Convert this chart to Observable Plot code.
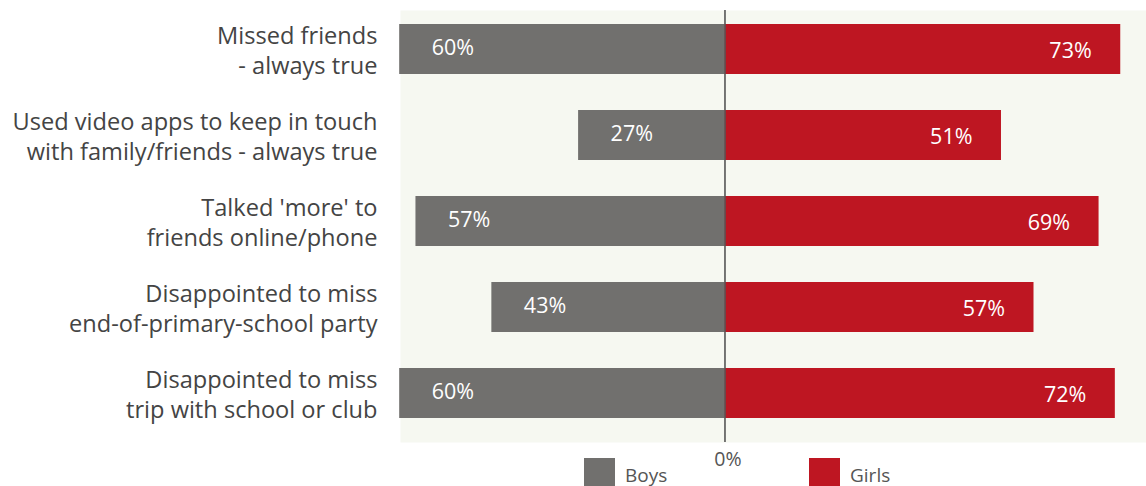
<!DOCTYPE html>
<html>
<head>
<meta charset="utf-8">
<script src="https://cdn.jsdelivr.net/npm/d3@7"></script>
<script src="https://cdn.jsdelivr.net/npm/@observablehq/plot@0.6"></script>
<style>
  html, body { margin: 0; padding: 0; background: #ffffff; }
  #wrap { position: relative; width: 1146px; height: 486px; font-family: "Open Sans", sans-serif; }
  #legend { position: absolute; top: 458px; left: 0; width: 1146px; height: 28px; }
  .item { position: absolute; top: 0; display: flex; align-items: center; height: 28px; }
  .sw { width: 31px; height: 28px; margin-right: 10px; }
  .lab { font-size: 19px; color: #555555; line-height: 28px; position: relative; top: 3px; }
</style>
</head>
<body>
<div id="wrap"></div>
<script>
const categories = [
  "Missed friends\n- always true",
  "Used video apps to keep in touch\nwith family/friends - always true",
  "Talked 'more' to\nfriends online/phone",
  "Disappointed to miss\nend-of-primary-school party",
  "Disappointed to miss\ntrip with school or club"
];
const boys = [60, 27, 57, 43, 60];
const girls = [73, 51, 69, 57, 72];
const seriesNames = ["Boys", "Girls"];
const seriesColors = ["#71706e", "#be1622"];
const xTicks = [0];

const rows = categories.flatMap((c, i) => [
  {category: c, series: "Boys", value: boys[i], x: -boys[i]},
  {category: c, series: "Girls", value: girls[i], x: girls[i]}
]);

const chart = Plot.plot({
  width: 1146,
  height: 486,
  marginLeft: 400,
  marginRight: 0,
  marginTop: 10,
  marginBottom: 44,
  style: {fontFamily: "'Open Sans', sans-serif", background: "transparent"},
  x: {domain: [-59.85, 77.75], axis: null},
  y: {domain: categories, paddingInner: 0.413, paddingOuter: 0.2065, align: 0.364, axis: null},
  color: {domain: seriesNames, range: seriesColors},
  marks: [
    Plot.frame({fill: "#f6f8f1", stroke: null}),
    Plot.barX(rows, {x1: 0, x2: "x", y: "category", fill: "series"}),
    Plot.ruleX([0], {stroke: "#555555", strokeWidth: 1.6}),
    Plot.text(rows.filter(d => d.series === "Boys"), {
      x: "x", y: "category", text: d => d.value + "%",
      textAnchor: "start", dx: 32, dy: -1, fill: "#ffffff", fontSize: 21.5
    }),
    Plot.text(rows.filter(d => d.series === "Girls"), {
      x: "x", y: "category", text: d => d.value + "%",
      textAnchor: "end", dx: -29, dy: 2, fill: "#ffffff", fontSize: 21.5
    }),
    Plot.axisY({
      tickSize: 0, tickPadding: 23, fontSize: 23.6, lineHeight: 1.24,
      color: "#444444", label: null
    }),
    Plot.axisX({
      ticks: xTicks, tickSize: 0, tickPadding: 10, fontSize: 19.5,
      tickFormat: d => d + "%", color: "#555555", label: null, dx: 3
    })
  ]
});

const wrap = document.getElementById("wrap");
wrap.appendChild(chart);

const legend = document.createElement("div");
legend.id = "legend";
const lefts = [584, 809];
seriesNames.forEach((name, i) => {
  const item = document.createElement("div");
  item.className = "item";
  item.style.left = lefts[i] + "px";
  const sw = document.createElement("div");
  sw.className = "sw";
  sw.style.background = seriesColors[i];
  const lab = document.createElement("span");
  lab.className = "lab";
  lab.textContent = name;
  item.appendChild(sw);
  item.appendChild(lab);
  legend.appendChild(item);
});
wrap.appendChild(legend);
</script>
</body>
</html>
